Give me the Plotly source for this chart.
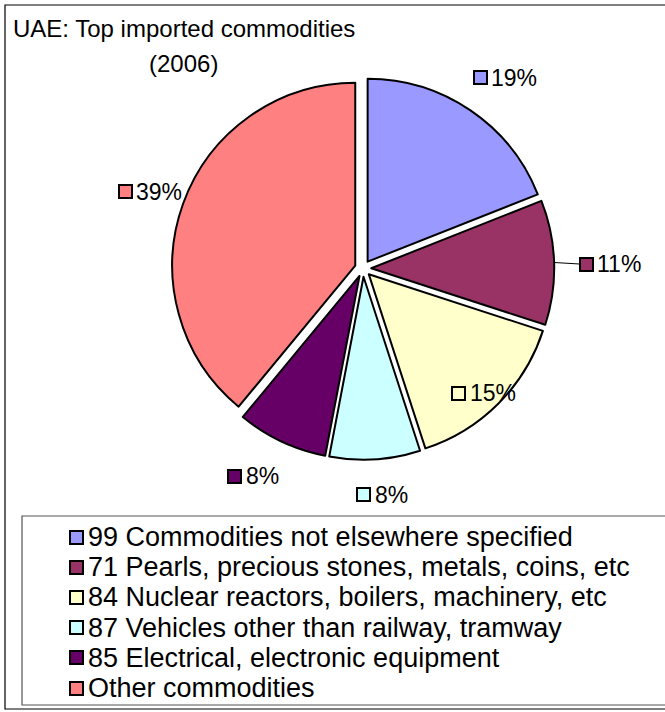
import math
import plotly.graph_objects as go

# Import shares by commodity group (percent of total imports, 2006)
categories = [
    "99 Commodities not elsewhere specified",
    "71 Pearls, precious stones, metals, coins, etc",
    "84 Nuclear reactors, boilers, machinery, etc",
    "87 Vehicles other than railway, tramway",
    "85 Electrical, electronic equipment",
    "Other commodities",
]
shares = [19, 11, 15, 8, 8, 39]
colors = ["#9999FF", "#993366", "#FFFFCC", "#CCFFFF", "#660066", "#FF8080"]

title_lines = ["UAE: Top imported commodities", "(2006)"]

# Canvas and pie geometry (pixels)
W, H = 665, 712
CX, CY, R = 363, 268.5, 183
PULL = 0.045
FONT = "Liberation Sans, Arial, sans-serif"

# Value label placement: distance from pie centre (px) and angular nudge (deg)
label_dist = [224, 223.5, 157, 226, 244, 250]
label_nudge = [-2.7, 0.65, 7.5, 3.35, 6.5, -1.9]
leader = [False, True, False, False, False, False]

# Key box layout
KEY_X, KEY_TEXT_X, KEY_Y0, KEY_STEP = 76, 86, 537, 30.2
SWATCH = 11

half = R * (1 + PULL)
dom_x = [(CX - half) / W, (CX + half) / W]
dom_y = [1 - (CY + half) / H, 1 - (CY - half) / H]

fig = go.Figure()

fig.add_trace(go.Pie(
    labels=categories,
    values=shares,
    sort=False,
    direction="clockwise",
    rotation=0,
    pull=[PULL] * len(shares),
    marker=dict(colors=colors, line=dict(color="black", width=2)),
    textinfo="none",
    hoverinfo="label+percent",
    domain=dict(x=dom_x, y=dom_y),
))


def swatch(x, y, color):
    """Small bordered colour square drawn above the pie."""
    return dict(text=" ", x=x, y=y, xref="x", yref="y",
                xanchor="center", yanchor="middle", showarrow=False,
                width=SWATCH, height=SWATCH, bgcolor=color,
                bordercolor="black", borderwidth=2, borderpad=0,
                font=dict(size=6))


def label(text, x, y, size):
    return dict(text=text, x=x, y=y, xref="x", yref="y",
                xanchor="left", yanchor="middle", showarrow=False,
                font=dict(family=FONT, size=size, color="black"))


annotations = [
    dict(text=title_lines[0], x=184, y=28, xref="x", yref="y",
         xanchor="center", yanchor="middle", showarrow=False,
         font=dict(family=FONT, size=24, color="black")),
    dict(text=title_lines[1], x=183, y=63, xref="x", yref="y",
         xanchor="center", yanchor="middle", showarrow=False,
         font=dict(family=FONT, size=24, color="black")),
]

# Outside value labels with a colour key square
total = sum(shares)
lead_x, lead_y = [], []
cum = 0
for v, c, d, n, has_leader in zip(shares, colors, label_dist, label_nudge, leader):
    mid = 360.0 * (cum + v / 2) / total
    cum += v
    a = math.radians(mid + n)
    px, py = CX + d * math.sin(a), CY - d * math.cos(a)
    annotations.append(swatch(px, py, c))
    annotations.append(label(f"{round(100 * v / total)}%", px + 9, py, 23))
    if has_leader:
        m = math.radians(mid)
        lead_x += [CX + half * math.sin(m), px - 7, None]
        lead_y += [CY - half * math.cos(m), py, None]

fig.add_trace(go.Scatter(
    x=lead_x, y=lead_y, mode="lines",
    line=dict(color="black", width=1),
    showlegend=False, hoverinfo="skip", cliponaxis=False,
))

# Category key
for i, (name, c) in enumerate(zip(categories, colors)):
    y = KEY_Y0 + i * KEY_STEP
    annotations.append(swatch(KEY_X, y, c))
    annotations.append(label(name, KEY_TEXT_X, y, 27))

# Chart frame and key frame
shapes = [
    dict(type="rect", xref="x", yref="y", x0=5, y0=5, x1=W + 20, y1=709,
         line=dict(color="black", width=1.2), fillcolor="rgba(0,0,0,0)", layer="below"),
    dict(type="rect", xref="x", yref="y", x0=22, y0=516, x1=W + 20, y1=705,
         line=dict(color="#555555", width=1.2), fillcolor="rgba(0,0,0,0)", layer="below"),
]

fig.update_layout(
    width=W, height=H,
    margin=dict(l=0, r=0, t=0, b=0, autoexpand=False),
    paper_bgcolor="white", plot_bgcolor="white",
    xaxis=dict(range=[0, W], visible=False, fixedrange=True, domain=[0, 1]),
    yaxis=dict(range=[H, 0], visible=False, fixedrange=True, domain=[0, 1]),
    shapes=shapes,
    annotations=annotations,
    showlegend=False,
)

fig.write_html("out.html")
